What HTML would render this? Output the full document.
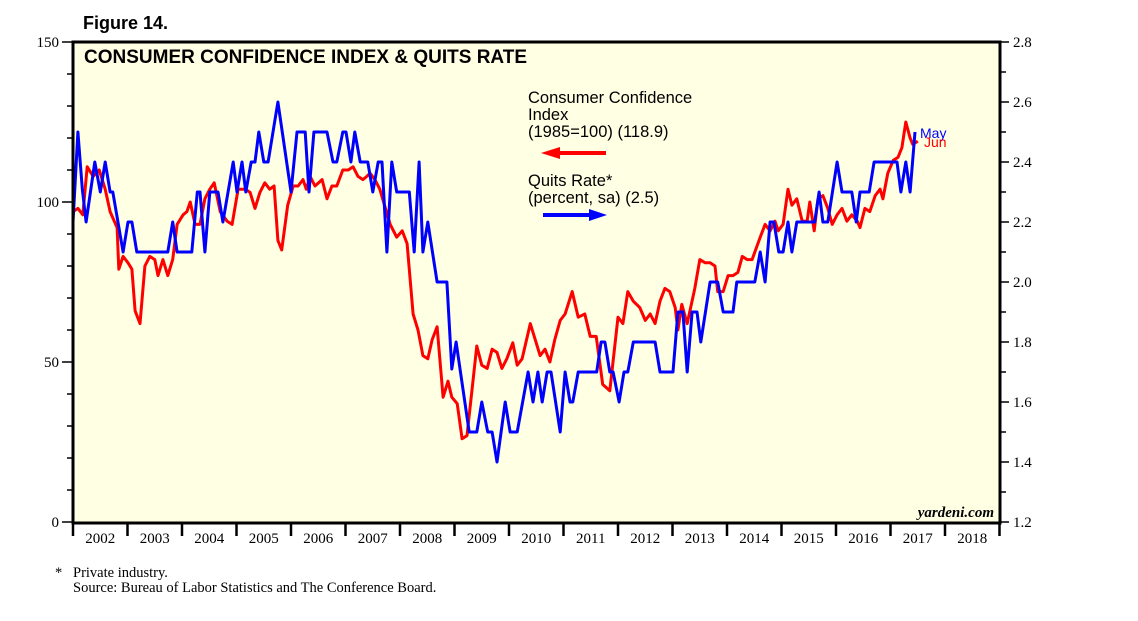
<!DOCTYPE html>
<html><head><meta charset="utf-8"><style>
body{margin:0;background:#fff;}
svg{display:block;font-family:"Liberation Sans",sans-serif;}
.serif{font-family:"Liberation Serif",serif;}
</style></head><body>
<svg id="chart" width="1138" height="621" viewBox="0 0 1138 621" xmlns="http://www.w3.org/2000/svg">
<text x="83" y="29" font-size="18" font-weight="bold">Figure 14.</text>
<rect x="73" y="42" width="927" height="481" fill="#ffffe4" stroke="none"/>
<g id="grid"></g>
<g id="series"></g>
<rect x="73" y="42" width="927" height="481" fill="none" stroke="#000" stroke-width="3"/>
<text x="84" y="63" font-size="19" font-weight="bold">CONSUMER CONFIDENCE INDEX &amp; QUITS RATE</text>
<g>
<text x="528" y="103" font-size="16.5">Consumer Confidence</text>
<text x="528" y="120" font-size="16.5">Index</text>
<text x="528" y="137" font-size="16.5">(1985=100) (118.9)</text>
<line x1="558" y1="153" x2="606" y2="153" stroke="#f00" stroke-width="4"/>
<polygon points="541,153 560,147 560,159" fill="#f00"/>
</g>
<g>
<text x="528" y="186" font-size="16.5">Quits Rate*</text>
<text x="528" y="203" font-size="16.5">(percent, sa) (2.5)</text>
<line x1="543" y1="215" x2="592" y2="215" stroke="#00f" stroke-width="4"/>
<polygon points="607,215 589,209 589,221" fill="#00f"/>
</g>
<text x="920" y="138" font-size="14" fill="#00f">May</text>
<text x="924" y="147" font-size="14" fill="#f00">Jun</text>
<text class="serif" x="994" y="517" font-size="15" font-style="italic" font-weight="bold" text-anchor="end">yardeni.com</text>
<g id="axes"></g>
<text class="serif" x="55" y="577" font-size="14.5">*</text>
<text class="serif" x="73" y="577" font-size="14.5">Private industry.</text>
<text class="serif" x="73" y="592" font-size="14.5">Source: Bureau of Labor Statistics and The Conference Board.</text>
</svg>
<script>
const leftTicks=[0,50,100,150];
const rightTicks=[1.2,1.4,1.6,1.8,2.0,2.2,2.4,2.6,2.8];
const years=[2002,2003,2004,2005,2006,2007,2008,2009,2010,2011,2012,2013,2014,2015,2016,2017,2018];
const cciDates=[0,.09,.18,.26,.37,.48,.59,.68,.81,.84,.92,1.01,1.08,1.14,1.23,1.32,1.41,1.50,1.56,1.65,1.74,1.83,1.91,2.02,2.09,2.15,2.24,2.33,2.42,2.51,2.59,2.70,2.83,2.92,3.03,3.16,3.25,3.34,3.43,3.52,3.61,3.69,3.76,3.83,3.94,4.04,4.13,4.22,4.28,4.35,4.44,4.57,4.66,4.75,4.84,4.95,5.05,5.14,5.23,5.32,5.39,5.45,5.54,5.63,5.82,5.94,6.04,6.13,6.24,6.33,6.42,6.51,6.59,6.68,6.79,6.88,6.95,7.05,7.14,7.23,7.32,7.41,7.50,7.60,7.69,7.78,7.87,7.96,8.07,8.15,8.24,8.39,8.48,8.57,8.66,8.75,8.84,8.94,9.03,9.16,9.27,9.39,9.49,9.60,9.72,9.85,10.00,10.09,10.18,10.28,10.40,10.50,10.59,10.68,10.77,10.86,10.95,11.05,11.10,11.17,11.27,11.41,11.50,11.60,11.69,11.78,11.83,11.93,12.02,12.11,12.20,12.28,12.37,12.46,12.61,12.70,12.79,12.88,12.94,13.03,13.12,13.19,13.28,13.38,13.47,13.52,13.60,13.67,13.76,13.85,13.93,14.02,14.11,14.20,14.29,14.39,14.44,14.53,14.62,14.72,14.81,14.86,14.95,15.05,15.14,15.21,15.28,15.36,15.41,15.50];
const cciValues=[97,98,96,111,108,110,104,97,92,79,83,81,79,66,62,80,83,82,77,82,77,82,93,96,97,100,93,93,101,104,106,97,94,93,104,104,103,98,103,106,104,105,88,85,99,105,105,107,104,108,105,107,101,105,105,110,110,111,108,107,108,109,107,104,93,89,91,87,65,60,52,51,57,61,39,44,39,37,26,27,41,55,49,48,54,53,48,51,56,49,51,62,57,52,54,50,57,63,65,72,64,65,58,58,43,41,64,62,72,69,67,63,65,62,69,73,72,67,60,68,62,73,82,81,81,80,72,72,77,77,78,83,82,82,89,93,91,94,91,93,104,99,101,94,94,100,91,101,102,98,93,96,98,94,96,94,92,98,97,102,104,101,109,113,114,117,125,120,118,119];
const quitsDates=[0,.09,.17,.24,.40,.50,.59,.68,.73,.92,1.01,1.08,1.17,1.74,1.83,1.91,2.18,2.28,2.33,2.42,2.51,2.66,2.75,2.94,3.01,3.10,3.17,3.27,3.34,3.41,3.50,3.58,3.76,4.00,4.11,4.26,4.33,4.42,4.66,4.77,4.84,4.95,5.01,5.10,5.17,5.27,5.41,5.50,5.60,5.67,5.76,5.85,5.94,6.17,6.26,6.35,6.42,6.51,6.68,6.86,6.95,7.03,7.27,7.41,7.50,7.61,7.69,7.78,7.93,8.02,8.15,8.35,8.44,8.53,8.61,8.70,8.77,8.94,9.03,9.12,9.17,9.27,9.61,9.69,9.76,9.85,9.91,10.02,10.11,10.18,10.28,10.68,10.77,11.01,11.10,11.19,11.27,11.36,11.45,11.52,11.69,11.83,11.93,12.11,12.18,12.51,12.61,12.70,12.79,12.86,12.95,13.03,13.12,13.19,13.28,13.61,13.69,13.76,13.85,14.02,14.11,14.29,14.37,14.44,14.61,14.70,15.12,15.19,15.28,15.36,15.45];
const quitsValues=[2.2,2.5,2.31,2.2,2.4,2.3,2.4,2.3,2.3,2.1,2.2,2.2,2.1,2.1,2.2,2.1,2.1,2.3,2.3,2.1,2.3,2.3,2.2,2.4,2.3,2.4,2.3,2.4,2.4,2.5,2.4,2.4,2.6,2.3,2.5,2.5,2.3,2.5,2.5,2.4,2.4,2.5,2.5,2.4,2.5,2.4,2.4,2.3,2.4,2.4,2.1,2.4,2.3,2.3,2.1,2.4,2.1,2.2,2.0,2.0,1.71,1.8,1.5,1.5,1.6,1.5,1.5,1.4,1.6,1.5,1.5,1.7,1.6,1.7,1.6,1.7,1.7,1.5,1.7,1.6,1.6,1.7,1.7,1.8,1.8,1.7,1.7,1.6,1.7,1.7,1.8,1.8,1.7,1.7,1.9,1.9,1.7,1.9,1.9,1.8,2.0,2.0,1.9,1.9,2.0,2.0,2.1,2.0,2.2,2.2,2.1,2.1,2.2,2.1,2.2,2.2,2.3,2.2,2.2,2.4,2.3,2.3,2.2,2.3,2.3,2.4,2.4,2.3,2.4,2.3,2.5];

const X0=73,YW=54.5;
const xOf=d=>X0+d*YW;
const yL=v=>522-v*3.2;
const yR=v=>522-(v-1.2)*300;
const NS='http://www.w3.org/2000/svg';
function mk(tag,attrs,parent,text){const e=document.createElementNS(NS,tag);for(const k in attrs)e.setAttribute(k,attrs[k]);if(text!==undefined)e.textContent=text;parent.appendChild(e);return e;}
const axes=document.getElementById('axes');
leftTicks.forEach(v=>{
  const l=mk('line',{x1:62,x2:73,y1:yL(v),y2:yL(v),stroke:'#000','stroke-width':1.5},axes);
  
  
  const t=mk('text',{x:59,y:yL(v)+5,'font-size':15,'text-anchor':'end','class':'serif'},axes,String(v));
  
  
});
for(let v=10;v<150;v+=10){if(v%50===0)continue;
  const l=mk('line',{x1:67,x2:73,y1:yL(v),y2:yL(v),stroke:'#000','stroke-width':1.5},axes);
  
  
}
for(let k=0;k<8;k++){const v=1.3+k*0.2;
  const l=mk('line',{x1:1000,x2:1006,y1:yR(v),y2:yR(v),stroke:'#000','stroke-width':1.5},axes);
  
  
}
rightTicks.forEach(v=>{
  const l=mk('line',{x1:1000,x2:1009,y1:yR(v),y2:yR(v),stroke:'#000','stroke-width':1.5},axes);
  
  
  const t=mk('text',{x:1013,y:yR(v)+5,'font-size':15,'class':'serif'},axes,v.toFixed(1));
  
  
});
years.forEach((yr,i)=>{
  const l=mk('line',{x1:xOf(i),x2:xOf(i),y1:523,y2:536,stroke:'#000','stroke-width':2.5},axes);
  
  
  const t=mk('text',{x:xOf(i+0.5),y:543,'font-size':15,'text-anchor':'middle','class':'serif'},axes,String(yr));
  
  
});
const lt=mk('line',{x1:xOf(17),x2:xOf(17),y1:523,y2:536,stroke:'#000','stroke-width':2.5},axes);


const ser=document.getElementById('series');
const pq=quitsDates.map((d,i)=>xOf(d).toFixed(1)+','+yR(quitsValues[i]).toFixed(1)).join(' ');
const q=mk('polyline',{points:pq,fill:'none',stroke:'#00f','stroke-width':3,'stroke-linejoin':'round'},ser);


const pc=cciDates.map((d,i)=>xOf(d).toFixed(1)+','+yL(cciValues[i]).toFixed(1)).join(' ');
const c=mk('polyline',{points:pc,fill:'none',stroke:'#f00','stroke-width':3,'stroke-linejoin':'round'},ser);


ser.appendChild(q);
</script>
</body></html>
